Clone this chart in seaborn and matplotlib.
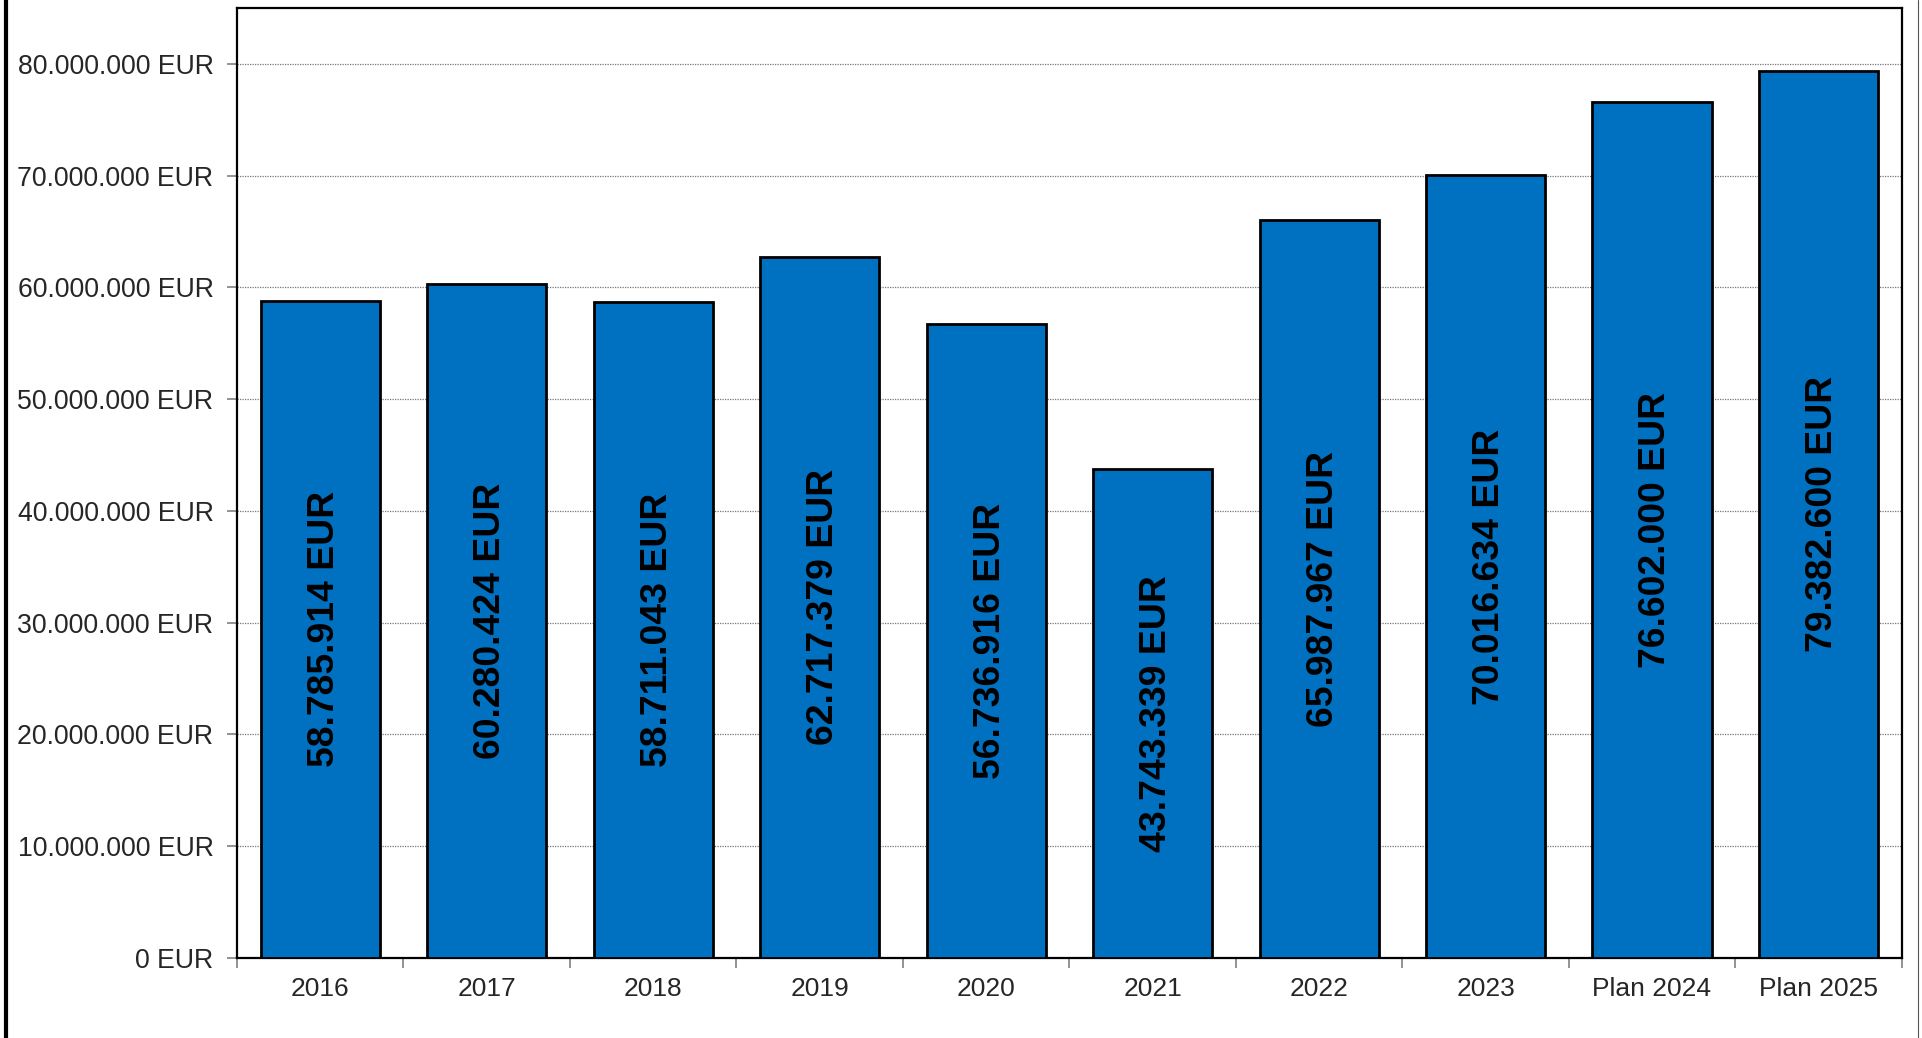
import matplotlib
matplotlib.use("Agg")
import matplotlib.pyplot as plt
import matplotlib.transforms as mtransforms
import seaborn as sns
import pandas as pd
import numpy as np
from matplotlib.lines import Line2D
from matplotlib.ticker import FuncFormatter, FixedLocator

categories = ["2016", "2017", "2018", "2019", "2020", "2021", "2022", "2023", "Plan 2024", "Plan 2025"]
values = [58785914, 60280424, 58711043, 62717379, 56736916, 43743339, 65987967, 70016634, 76602000, 79382600]
value_labels = ["58.785.914 EUR", "60.280.424 EUR", "58.711.043 EUR", "62.717.379 EUR", "56.736.916 EUR",
                "43.743.339 EUR", "65.987.967 EUR", "70.016.634 EUR", "76.602.000 EUR", "79.382.600 EUR"]

sns.set_theme(style="white")
plt.rcParams['font.family'] = ['Liberation Sans', 'DejaVu Sans']

df = pd.DataFrame({"cat": categories, "val": values})

fig = plt.figure(figsize=(19.22, 10.38), dpi=100)
ax = fig.add_axes([237/1922, 1 - 957.7/1038, (1901.7 - 237)/1922, (957.7 - 8)/1038])

sns.barplot(data=df, x="cat", y="val", color="#0070C0", saturation=1, width=0.715,
            edgecolor="black", linewidth=2, ax=ax, zorder=3)

ax.set_ylim(0, 85_000_000)
ax.set_xlim(-0.5, len(categories) - 0.5)
ax.set_xlabel("")
ax.set_ylabel("")

ax.yaxis.set_major_locator(FixedLocator(np.arange(0, 80_000_001, 10_000_000)))
ax.yaxis.set_major_formatter(FuncFormatter(lambda v, p: f"{int(v):,}".replace(",", ".") + " EUR"))
ax.grid(axis="y", color="#777777", linestyle=(0, (1, 1)), linewidth=0.9, zorder=0)
ax.set_axisbelow(True)

ax.tick_params(axis="y", which="major", length=7, width=1.2, color="#808080", labelsize=19.2, pad=10, left=True)
ax.tick_params(axis="x", which="major", length=0, labelsize=19, pad=14)
ax.set_xticks(np.arange(-0.5, len(categories), 1.0), minor=True)
ax.tick_params(axis="x", which="minor", length=7, width=1.2, color="#808080", bottom=True)

for s in ax.spines.values():
    s.set_visible(True)
    s.set_color("black")
    s.set_linewidth(1.6)

shift = mtransforms.offset_copy(ax.transData, fig=fig, x=4, y=0, units="dots")
for i, (v, lab) in enumerate(zip(values, value_labels)):
    ax.text(i, v / 2, lab, rotation=90, ha="center", va="center", fontsize=26.9,
            fontweight="bold", color="black", zorder=5, transform=shift)

fig.add_artist(Line2D([6/1922, 6/1922], [0, 1], color="black", linewidth=3, transform=fig.transFigure))
fig.add_artist(Line2D([1918/1922, 1918/1922], [0, 1], color="#555555", linewidth=0.8, transform=fig.transFigure))

fig.savefig("out.png", dpi=100)
